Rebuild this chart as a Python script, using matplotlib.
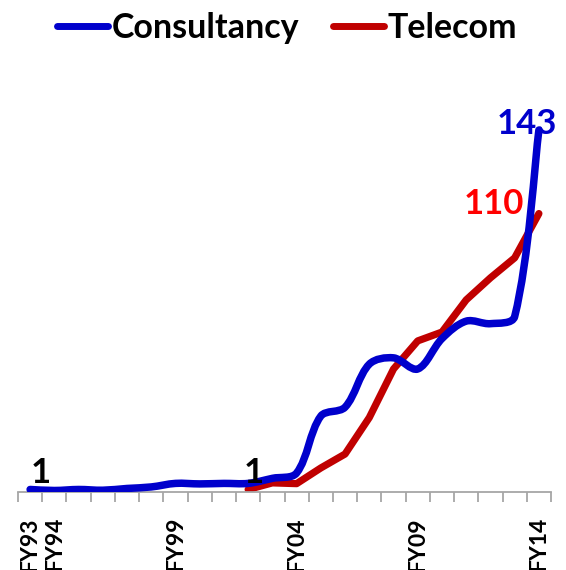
import numpy as np
import matplotlib
matplotlib.use("Agg")
import matplotlib.pyplot as plt
from matplotlib.path import Path
from matplotlib.patches import PathPatch
from matplotlib.lines import Line2D

plt.rcParams['font.family'] = ['Lato', 'DejaVu Sans']
plt.rcParams['font.weight'] = 'bold'

# ////////// DATA //////////
years = ["FY93", "FY94", "FY95", "FY96", "FY97", "FY98", "FY99", "FY00", "FY01", "FY02", "FY03",
         "FY04", "FY05", "FY06", "FY07", "FY08", "FY09", "FY10", "FY11", "FY12", "FY13", "FY14"]
shown_labels = ["FY93", "FY94", "FY99", "FY04", "FY09", "FY14"]

consultancy = [1.0, 0.6, 1.0, 0.7, 1.4, 2.0, 3.4, 3.2, 3.4, 3.4, 5.4,
               7.5, 30.0, 33.5, 50.5, 53.0, 48.6, 60.6, 67.5, 66.5, 69.3, 143.0]
telecom_years = years[9:]
telecom = [1.0, 3.6, 3.3, 9.5, 15.0, 29.4, 48.6, 59.7, 63.2, 75.9, 84.6, 92.5, 110.0]

BLUE = "#0000CC"
RED_LINE = "#C00000"
RED_TXT = "#FF0000"

# tamanho de uma unidade em pixels (para a suavizacao)
PX_X = 24.2
PX_Y = 2.53


# ////////// curva suavizada (tipo Excel) //////////
def caminho_suave(xs, ys):
    pts = np.column_stack([xs, ys]).astype(float)
    esc = np.array([PX_X, PX_Y])
    n = len(pts)

    def dist(a, b):
        return np.hypot(*((b - a) * esc))

    verts = [pts[0]]
    codes = [Path.MOVETO]
    for i in range(n - 1):
        p0 = pts[i - 1] if i > 0 else pts[i]
        p1 = pts[i]
        p2 = pts[i + 1]
        p3 = pts[i + 2] if i + 2 < n else pts[i + 1]
        d01, d12, d23 = dist(p0, p1), dist(p1, p2), dist(p2, p3)
        f1 = d12 / (d01 + d12) if d01 > 0 else 0.5
        f2 = d12 / (d12 + d23) if d23 > 0 else 0.5
        c1 = p1 + (p2 - p0) * f1 / 3.0
        c2 = p2 - (p3 - p1) * f2 / 3.0
        verts += [c1, c2, p2]
        codes += [Path.CURVE4] * 3
    return Path(verts, codes)


fig = plt.figure(figsize=(5.66, 5.70), dpi=100)
ax = fig.add_axes([18 / 566, 78 / 570, (551 - 18) / 566, (492 - 87) / 570])

x_all = np.arange(len(years))
x_tel = np.array([years.index(y) for y in telecom_years])

# consultancy suavizada
patch = PathPatch(caminho_suave(x_all, consultancy), facecolor="none", edgecolor=BLUE,
                  lw=5.4, capstyle="round", joinstyle="round", zorder=3)
ax.add_patch(patch)
# telecom
ax.plot(x_tel, telecom, color=RED_LINE, lw=5.2, solid_capstyle="round",
        solid_joinstyle="round", zorder=2)

ax.set_xlim(-0.5, len(years) - 0.5)
ax.set_ylim(0, 160)

# eixo
for s in ["left", "right", "top"]:
    ax.spines[s].set_visible(False)
ax.spines["bottom"].set_color("#A6A6A6")
ax.spines["bottom"].set_linewidth(1.3)
ax.set_yticks([])
ax.set_xticks([years.index(y) for y in shown_labels])
ax.set_xticklabels(shown_labels, rotation=90, fontsize=16.5, fontweight="bold", va="top")
ax.tick_params(axis="x", which="major", length=0, pad=18)
ax.set_xticks(np.arange(-0.5, len(years)), minor=True)
ax.tick_params(axis="x", which="minor", length=7, width=1.3, color="#A6A6A6")

# rotulos de dados
pt = 0.72
ax.annotate("1", (0, consultancy[0]), xytext=(11 * pt, 0), textcoords="offset points",
            ha="center", va="bottom", fontsize=25, fontweight="bold", color="black")
ax.annotate("1", (x_tel[0], telecom[0]), xytext=(6 * pt, 0), textcoords="offset points",
            ha="center", va="bottom", fontsize=25, fontweight="bold", color="black")
ax.annotate("143", (x_all[-1], consultancy[-1]), xytext=(-12 * pt, 6 * pt),
            textcoords="offset points", ha="center", va="center", fontsize=25,
            fontweight="bold", color=BLUE)
ax.annotate("110", (x_tel[-1], telecom[-1]), xytext=(-45 * pt, 10 * pt),
            textcoords="offset points", ha="center", va="center", fontsize=25,
            fontweight="bold", color=RED_TXT)

# legenda
handles = [Line2D([], [], color=BLUE, lw=5, solid_capstyle="round"),
           Line2D([], [], color=RED_LINE, lw=5, solid_capstyle="round")]
fig.legend(handles, ["Consultancy", "Telecom"], loc="center", ncol=2,
           bbox_to_anchor=(287 / 566, 1 - 28 / 570), frameon=False,
           prop={"size": 24.5, "weight": "bold"}, handlelength=1.5, handletextpad=0.1,
           columnspacing=1.0, borderpad=0)

fig.savefig("out.png", dpi=100)
